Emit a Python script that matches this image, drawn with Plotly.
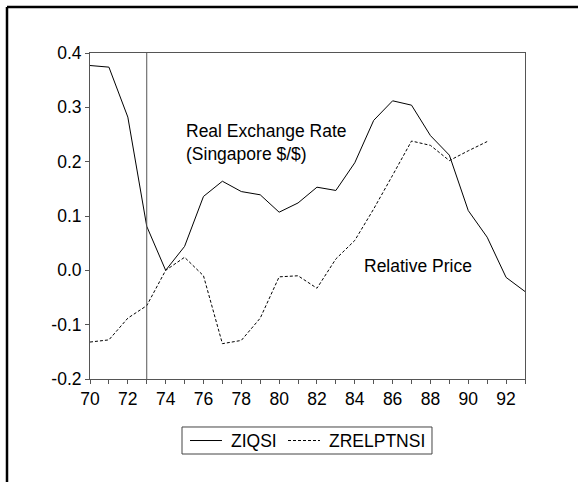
import plotly.graph_objects as go

years = list(range(1970, 1994))
ziqsi = [0.377, 0.374, 0.282, 0.081, 0.000, 0.044, 0.136, 0.164, 0.145, 0.139,
         0.107, 0.124, 0.153, 0.147, 0.198, 0.276, 0.312, 0.304, 0.248, 0.212,
         0.110, 0.061, -0.013, -0.039]
zrelptnsi = [-0.132, -0.128, -0.088, -0.065, 0.000, 0.024, -0.010, -0.135, -0.129, -0.088,
             -0.012, -0.010, -0.033, 0.021, 0.055, 0.113, 0.175, 0.238, 0.230, 0.202,
             0.220, 0.237, None, None]
series_names = ["ZIQSI", "ZRELPTNSI"]
x_tickvals = list(range(1970, 1994, 2))
x_ticktext = ["70", "72", "74", "76", "78", "80", "82", "84", "86", "88", "90", "92"]
y_tickvals = [-0.2, -0.1, 0.0, 0.1, 0.2, 0.3, 0.4]
y_ticktext = ["-0.2", "-0.1", "0.0", "0.1", "0.2", "0.3", "0.4"]
break_year = 1973

FONT = "Arial, Liberation Sans, sans-serif"
FS = 17.5
DASH = "3px,2px"

fig = go.Figure()
fig.add_trace(go.Scatter(x=years, y=ziqsi, mode="lines", name=series_names[0],
                         line=dict(color="black", width=1)))
fig.add_trace(go.Scatter(x=years, y=zrelptnsi, mode="lines", name=series_names[1],
                         line=dict(color="black", width=1, dash=DASH)))

fig.add_shape(type="line", xref="x", yref="y", x0=break_year, x1=break_year,
              y0=-0.2, y1=0.4, line=dict(color="#555555", width=1))

# outer frame (left and top edges)
fig.add_shape(type="line", xref="paper", yref="paper", x0=-0.1908, x1=-0.1908,
              y0=-0.6, y1=1.1411, line=dict(color="black", width=2.5))
fig.add_shape(type="line", xref="paper", yref="paper", x0=-0.1908, x1=1.3,
              y0=1.1411, y1=1.1411, line=dict(color="black", width=2.5))

fig.add_annotation(x=1974.95, y=0.2355, xref="x", yref="y", xanchor="left", yanchor="middle",
                   text="Real Exchange Rate<br>(Singapore $/$)", showarrow=False, align="left",
                   font=dict(family=FONT, size=FS, color="black"))
fig.add_annotation(x=1984.4, y=0.008, xref="x", yref="y", xanchor="left", yanchor="middle",
                   text="Relative Price", showarrow=False, align="left",
                   font=dict(family=FONT, size=FS, color="black"))

# custom legend box
fig.add_shape(type="rect", xref="paper", yref="paper", x0=0.2115, x1=0.7862,
              y0=-0.2301, y1=-0.1472, line=dict(color="#444444", width=1),
              fillcolor="white")
leg_y = -0.1887
fig.add_shape(type="line", xref="paper", yref="paper", x0=0.2299, x1=0.3034,
              y0=leg_y, y1=leg_y, line=dict(color="black", width=1))
fig.add_shape(type="line", xref="paper", yref="paper", x0=0.4552, x1=0.5287,
              y0=leg_y, y1=leg_y, line=dict(color="black", width=1, dash=DASH))
fig.add_annotation(x=0.3195, y=leg_y, xref="paper", yref="paper", xanchor="left",
                   yanchor="middle", text=series_names[0], showarrow=False,
                   font=dict(family=FONT, size=FS, color="black"))
fig.add_annotation(x=0.5448, y=leg_y, xref="paper", yref="paper", xanchor="left",
                   yanchor="middle", text=series_names[1], showarrow=False,
                   font=dict(family=FONT, size=FS, color="black"))

fig.update_layout(
    width=578, height=482,
    margin=dict(l=90, r=53, t=53, b=103),
    paper_bgcolor="white", plot_bgcolor="white",
    font=dict(family=FONT, size=FS, color="black"),
    showlegend=False,
)
fig.update_xaxes(range=[1970, 1993], tickvals=x_tickvals, ticktext=x_ticktext,
                 ticks="outside", ticklen=4, tickcolor="#555555",
                 minor=dict(dtick=1, tick0=1970, ticks="outside", ticklen=4, tickcolor="#555555"),
                 showgrid=False, zeroline=False, showline=True, linecolor="#555555",
                 linewidth=1, mirror=True, tickfont=dict(family=FONT, size=FS))
fig.update_yaxes(range=[-0.2, 0.4], tickvals=y_tickvals, ticktext=y_ticktext,
                 ticks="outside", ticklen=4, tickcolor="#555555",
                 showgrid=False, zeroline=False, showline=True, linecolor="#555555",
                 linewidth=1, mirror=True, tickfont=dict(family=FONT, size=FS))

fig.write_html("out.html", config={"displayModeBar": False},
               post_script="document.body.style.margin='0';document.body.style.overflow='hidden';")
